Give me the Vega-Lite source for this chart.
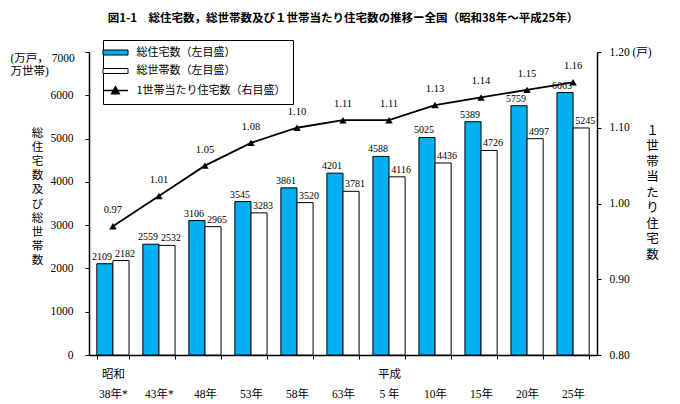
{
  "$schema": "https://vega.github.io/schema/vega-lite/v6.json",
  "width": 508,
  "height": 303,
  "autosize": "none",
  "padding": {"left": 89, "top": 52, "right": 83, "bottom": 49},
  "background": "white",
  "title": {
    "text": "図1-1　総住宅数，総世帯数及び１世帯当たり住宅数の推移ー全国（昭和38年～平成25年）",
    "font": "Noto Sans CJK JP",
    "fontSize": 11.5,
    "fontWeight": "bold",
    "color": "black",
    "anchor": "middle",
    "offset": 15
  },
  "datasets": {
    "bars": [
      {"period": "昭和\n38年*", "series": "総住宅数（左目盛）", "value": 2109},
      {"period": "昭和\n38年*", "series": "総世帯数（左目盛）", "value": 2182},
      {"period": "\n43年*", "series": "総住宅数（左目盛）", "value": 2559},
      {"period": "\n43年*", "series": "総世帯数（左目盛）", "value": 2532},
      {"period": "\n48年", "series": "総住宅数（左目盛）", "value": 3106},
      {"period": "\n48年", "series": "総世帯数（左目盛）", "value": 2965},
      {"period": "\n53年", "series": "総住宅数（左目盛）", "value": 3545},
      {"period": "\n53年", "series": "総世帯数（左目盛）", "value": 3283},
      {"period": "\n58年", "series": "総住宅数（左目盛）", "value": 3861},
      {"period": "\n58年", "series": "総世帯数（左目盛）", "value": 3520},
      {"period": "\n63年", "series": "総住宅数（左目盛）", "value": 4201},
      {"period": "\n63年", "series": "総世帯数（左目盛）", "value": 3781},
      {"period": "平成\n5 年", "series": "総住宅数（左目盛）", "value": 4588},
      {"period": "平成\n5 年", "series": "総世帯数（左目盛）", "value": 4116},
      {"period": "\n10年", "series": "総住宅数（左目盛）", "value": 5025},
      {"period": "\n10年", "series": "総世帯数（左目盛）", "value": 4436},
      {"period": "\n15年", "series": "総住宅数（左目盛）", "value": 5389},
      {"period": "\n15年", "series": "総世帯数（左目盛）", "value": 4726},
      {"period": "\n20年", "series": "総住宅数（左目盛）", "value": 5759},
      {"period": "\n20年", "series": "総世帯数（左目盛）", "value": 4997},
      {"period": "\n25年", "series": "総住宅数（左目盛）", "value": 6063},
      {"period": "\n25年", "series": "総世帯数（左目盛）", "value": 5245}
    ],
    "ratio": [
      {"period": "昭和\n38年*", "ratio": 0.97},
      {"period": "\n43年*", "ratio": 1.01},
      {"period": "\n48年", "ratio": 1.05},
      {"period": "\n53年", "ratio": 1.08},
      {"period": "\n58年", "ratio": 1.10},
      {"period": "\n63年", "ratio": 1.11},
      {"period": "平成\n5 年", "ratio": 1.11},
      {"period": "\n10年", "ratio": 1.13},
      {"period": "\n15年", "ratio": 1.14},
      {"period": "\n20年", "ratio": 1.15},
      {"period": "\n25年", "ratio": 1.16}
    ]
  },
  "encoding": {
    "x": {
      "field": "period",
      "type": "nominal",
      "sort": null,
      "scale": {"paddingInner": 0.3, "paddingOuter": 0.17},
      "axis": {
        "title": null,
        "labelExpr": "split(datum.label, '\\n')",
        "labelAngle": 0,
        "labelFont": "Liberation Serif, Noto Sans CJK JP",
        "labelFontSize": 11.5,
        "labelColor": "black",
        "labelLineHeight": 20,
        "labelPadding": 9,
        "tickBand": "extent",
        "tickSize": 4,
        "tickColor": "black",
        "domainColor": "black",
        "domainWidth": 1.5
      }
    }
  },
  "layer": [
    {
      "data": {"name": "bars"},
      "layer": [
        {
          "mark": {"type": "bar", "stroke": "black", "strokeWidth": 1},
          "encoding": {
            "xOffset": {"field": "series", "type": "nominal", "sort": null, "scale": {"paddingInner": 0}},
            "y": {
              "field": "value",
              "type": "quantitative",
              "scale": {"domain": [0, 7000], "nice": false},
              "axis": {
                "orient": "left",
                "values": [0, 1000, 2000, 3000, 4000, 5000, 6000, 7000],
                "format": "d",
                "grid": false,
                "labelExpr": "datum.value == 7000 ? ['(万戸，\u00a0' + datum.label, '万世帯)'] : datum.label",
                "labelFont": "Liberation Serif, Noto Sans CJK JP",
                "labelFontSize": 11.5,
                "labelColor": "black",
                "labelPadding": {"condition": {"test": "datum.value == 7000", "value": 75}, "value": 12},
                "labelAlign": {"condition": {"test": "datum.value == 7000", "value": "left"}, "value": "right"},
                "labelLineHeight": 13,
                "labelOffset": {"condition": {"test": "datum.value == 7000", "value": 6}, "value": 0},
                "tickSize": 4,
                "tickColor": "black",
                "domainColor": "black",
                "domainWidth": 1.5,
                "title": ["総", "住", "宅", "数", "及", "び", "総", "世", "帯", "数"],
                "titleAngle": 0,
                "titleFont": "Noto Sans CJK JP",
                "titleFontWeight": "normal",
                "titleFontSize": 11.5,
                "titleLineHeight": 14.2,
                "titleColor": "black",
                "titleAlign": "center",
                "titleBaseline": "middle",
                "titleX": -52,
                "titleY": 81
              }
            },
            "fill": {
              "field": "series",
              "type": "nominal",
              "scale": {
                "domain": ["総住宅数（左目盛）", "総世帯数（左目盛）", "1世帯当たり住宅数（右目盛）"],
                "range": ["#00B0F0", "white", "black"]
              },
              "legend": {
                "orient": "none",
                "legendX": 14,
                "legendY": -12,
                "title": null,
                "strokeColor": "black",
                "fillColor": "white",
                "padding": 7,
                "rowPadding": 6.5,
                "labelFont": "Noto Sans CJK JP",
                "labelFontSize": 11,
                "labelColor": "black",
                "labelLimit": 400,
                "labelOffset": 15.5,
                "labelExpr": "datum.label + '\u00a0\u00a0\u00a0\u00a0\u00a0\u00a0\u00a0\u00a0\u00a0\u00a0\u00a0\u00a0\u00a0\u00a0'",
                "symbolSize": 625,
                "symbolStrokeColor": "black",
                "symbolStrokeWidth": 1,
                "symbolType": "M-1,-0.2H1V0.2H-1Z",
                "encode": {
                  "symbols": {
                    "update": {
                      "shape": {"signal": "datum.value == '1世帯当たり住宅数（右目盛）' ? 'M-1,0H1M-0.3,0.25L0,-0.3L0.3,0.25Z' : 'M-1,-0.2H1V0.2H-1Z'"},
                      "strokeWidth": {"signal": "datum.value == '1世帯当たり住宅数（右目盛）' ? 1.5 : 1"}
                    }
                  }
                }
              }
            }
          }
        },
        {
          "transform": [{"filter": "datum.series == '総住宅数（左目盛）'"}],
          "mark": {"type": "text", "dy": -7, "dx": -3, "font": "Liberation Serif", "fontSize": 10, "color": "black"},
          "encoding": {
            "xOffset": {"field": "series", "type": "nominal", "scale": {"paddingInner": 0, "domain": ["総住宅数（左目盛）", "総世帯数（左目盛）"]}},
            "y": {"field": "value", "type": "quantitative"},
            "text": {"field": "value", "type": "quantitative", "format": "d"}
          }
        },
        {
          "transform": [{"filter": "datum.series == '総世帯数（左目盛）'"}],
          "mark": {"type": "text", "dy": -7, "dx": 4, "font": "Liberation Serif", "fontSize": 10, "color": "black"},
          "encoding": {
            "xOffset": {"field": "series", "type": "nominal", "scale": {"paddingInner": 0, "domain": ["総住宅数（左目盛）", "総世帯数（左目盛）"]}},
            "y": {"field": "value", "type": "quantitative"},
            "text": {"field": "value", "type": "quantitative", "format": "d"}
          }
        }
      ]
    },
    {
      "data": {"name": "ratio"},
      "layer": [
        {
          "mark": {"type": "line", "color": "black", "strokeWidth": 1.8, "point": {"shape": "triangle-up", "size": 55, "filled": true, "color": "black"}},
          "encoding": {
            "y": {
              "field": "ratio",
              "type": "quantitative",
              "scale": {"domain": [0.8, 1.2], "nice": false, "zero": false},
              "axis": {
                "orient": "right",
                "values": [0.8, 0.85, 0.9, 0.95, 1.0, 1.05, 1.1, 1.15, 1.2],
                "format": ".2f",
                "grid": false,
                "labelExpr": "datum.value == 1.2 ? datum.label + ' (戸)' : datum.label",
                "labelFont": "Liberation Serif, Noto Sans CJK JP",
                "labelFontSize": 11.5,
                "labelColor": "black",
                "labelPadding": 8,
                "tickSize": 4,
                "tickColor": "black",
                "domainColor": "black",
                "domainWidth": 1.5,
                "title": ["１", "世", "帯", "当", "た", "り", "住", "宅", "数"],
                "titleAngle": 0,
                "titleFont": "Noto Sans CJK JP",
                "titleFontWeight": "normal",
                "titleFontSize": 12.5,
                "titleLineHeight": 15.5,
                "titleColor": "black",
                "titleAlign": "center",
                "titleBaseline": "middle",
                "titleX": 55,
                "titleY": 78
              }
            }
          }
        },
        {
          "mark": {"type": "text", "dy": -16, "font": "Liberation Serif", "fontSize": 10.5, "color": "black"},
          "encoding": {
            "y": {"field": "ratio", "type": "quantitative"},
            "text": {"field": "ratio", "type": "quantitative", "format": ".2f"}
          }
        }
      ]
    }
  ],
  "resolve": {"scale": {"y": "independent"}},
  "config": {"view": {"stroke": null}}
}
